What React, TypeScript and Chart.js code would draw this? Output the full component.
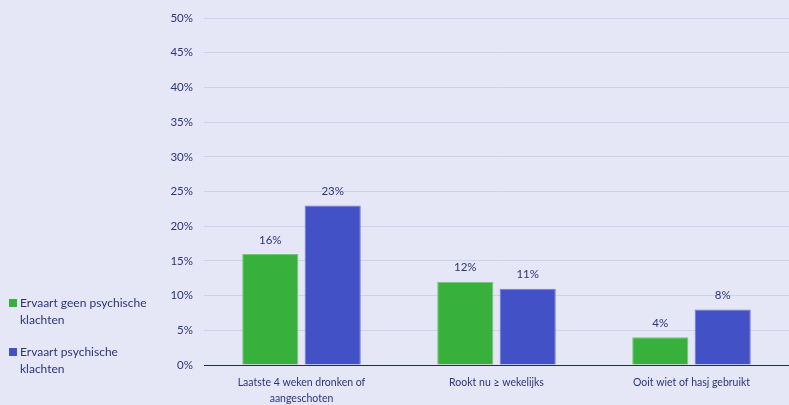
import React, { useEffect, useRef } from "react";
import { Chart, registerables } from "chart.js";

Chart.register(...registerables);

const categories: (string | string[])[] = [
  ["Laatste 4 weken dronken of", "aangeschoten"],
  "Rookt nu ≥ wekelijks",
  "Ooit wiet of hasj gebruikt",
];
const seriesNames = ["Ervaart geen psychische klachten", "Ervaart psychische klachten"];
const geenKlachten = [16, 12, 4];
const welKlachten = [23, 11, 8];
const yTicksMax = 50;
const yTickStep = 5;

const BG = "#e6e7f6";
const TEXT = "#2b347c";
const GREEN = "#38b03c";
const BLUE = "#4351c6";
const FONT = "Lato, 'Open Sans', sans-serif";

const valueLabels = {
  id: "valueLabels",
  afterDatasetsDraw(chart: any) {
    const ctx = chart.ctx;
    ctx.save();
    ctx.font = `11.5px ${FONT}`;
    ctx.fillStyle = TEXT;
    ctx.textAlign = "center";
    ctx.textBaseline = "middle";
    chart.data.datasets.forEach((ds: any, di: number) => {
      const meta = chart.getDatasetMeta(di);
      meta.data.forEach((bar: any, i: number) => {
        ctx.fillText(ds.data[i] + "%", bar.x, bar.y - 14);
      });
    });
    ctx.restore();
  },
};

export default function App() {
  const ref = useRef<HTMLCanvasElement | null>(null);
  useEffect(() => {
    if (!ref.current) return;
    const chart = new Chart(ref.current, {
      type: "bar",
      data: {
        labels: categories,
        datasets: [
          {
            label: seriesNames[0],
            data: geenKlachten,
            backgroundColor: GREEN,
            borderColor: "#6fcb72",
            borderWidth: 1,
            barPercentage: 0.9,
            categoryPercentage: 0.64,
          },
          {
            label: seriesNames[1],
            data: welKlachten,
            backgroundColor: BLUE,
            borderColor: "#6f7ad8",
            borderWidth: 1,
            barPercentage: 0.9,
            categoryPercentage: 0.64,
          },
        ],
      },
      options: {
        animation: false,
        responsive: false,
        maintainAspectRatio: false,
        layout: { padding: { top: 18, left: 0, right: 0, bottom: 0 } },
        plugins: {
          legend: { display: false },
          tooltip: { enabled: false },
        },
        scales: {
          x: {
            grid: { display: false },
            border: { display: true, color: "#1e2866", width: 1 },
            ticks: {
              color: TEXT,
              font: { family: FONT, size: 10.5, lineHeight: 1.5 },
              padding: 2,
              maxRotation: 0,
              autoSkip: false,
            },
            afterFit: (s: any) => {
              s.height = 40;
            },
          },
          y: {
            min: 0,
            max: yTicksMax,
            border: { display: false },
            grid: { color: "#cfd1ea", drawTicks: false, lineWidth: 1 },
            ticks: {
              stepSize: yTickStep,
              color: TEXT,
              font: { family: FONT, size: 11.5 },
              padding: 11,
              callback: (v: any) => v + "%",
            },
            afterFit: (s: any) => {
              s.width = 204;
            },
          },
        },
      },
      plugins: [valueLabels],
    });
    return () => chart.destroy();
  }, []);

  return (
    <div
      style={{
        position: "fixed",
        left: 0,
        top: 0,
        width: 789,
        height: 405,
        background: BG,
        overflow: "hidden",
      }}
    >
      <canvas ref={ref} width={789} height={405} style={{ position: "absolute", left: 0, top: 0 }} />
      <div
        style={{
          position: "absolute",
          left: 9,
          top: 294,
          width: 150,
          fontFamily: FONT,
          fontSize: 12,
          lineHeight: "17px",
          color: TEXT,
        }}
      >
        {seriesNames.map((name, i) => (
          <div key={name} style={{ position: "relative", paddingLeft: 11, marginBottom: 15 }}>
            <span
              style={{
                position: "absolute",
                left: 0,
                top: 5,
                width: 8,
                height: 8,
                background: i === 0 ? GREEN : BLUE,
              }}
            />
            {name}
          </div>
        ))}
      </div>
    </div>
  );
}
